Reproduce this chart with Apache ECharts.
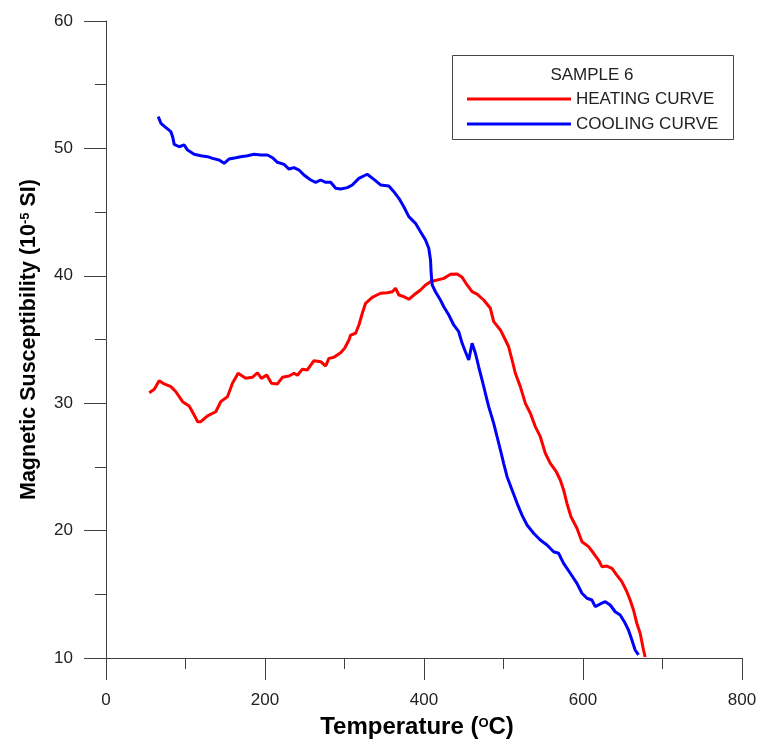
<!DOCTYPE html>
<html>
<head>
<meta charset="utf-8">
<title>Sample 6 – magnetic susceptibility vs temperature</title>
<script src="https://cdn.jsdelivr.net/npm/echarts@6/dist/echarts.min.js"></script>
<style>
  html, body { margin: 0; padding: 0; background: #ffffff; }
  #chart { width: 760px; height: 746px; }
</style>
</head>
<body>
<div id="chart"></div>
<script>
// Heating curve: temperature (°C) and susceptibility (10^-5 SI)
const heatT = [54.4, 60.7, 66.9, 73.2, 81.6, 87.9, 96.3, 104.6, 110.9, 115.2, 119.3, 127.7, 138.1, 144.4, 152.8,
  159.1, 166.2, 175.8, 184.2, 190.5, 195.5, 202.2, 208.1, 215.6, 221.9, 230.2, 236.5, 240.8, 247.0, 253.3,
  261.6, 270.0, 276.3, 280.4, 286.7, 295.1, 300.2, 305.6, 307.7, 314.0, 318.1, 322.4, 326.5, 334.9, 345.4,
  353.8, 360.1, 364.2, 368.4, 374.6, 380.9, 387.2, 395.6, 401.9, 408.2, 416.6, 424.9, 433.3, 441.7, 448.0,
  454.2, 460.5, 466.8, 475.1, 483.5, 487.7, 496.1, 502.4, 506.5, 510.8, 514.9, 521.2, 527.5, 533.8, 540.0,
  546.3, 552.6, 558.9, 566.4, 571.4, 575.6, 579.8, 584.9, 592.4, 598.7, 607.0, 613.3, 619.5, 623.8, 630.1,
  636.4, 642.6, 648.9, 655.2, 659.3, 663.5, 667.7, 671.9, 676.1, 678.2];
const heatV = [30.82, 31.09, 31.77, 31.51, 31.30, 30.90, 30.12, 29.78, 29.07, 28.55, 28.55, 29.00, 29.33, 30.12, 30.51,
  31.56, 32.35, 31.95, 32.03, 32.39, 31.95, 32.21, 31.56, 31.51, 32.03, 32.13, 32.35, 32.19, 32.66, 32.61,
  33.34, 33.26, 32.92, 33.52, 33.60, 33.96, 34.31, 34.96, 35.35, 35.49, 36.14, 37.06, 37.84, 38.31, 38.63,
  38.67, 38.75, 39.02, 38.49, 38.36, 38.16, 38.49, 38.89, 39.28, 39.54, 39.67, 39.80, 40.12, 40.14, 39.88,
  39.28, 38.75, 38.57, 38.10, 37.45, 36.40, 35.75, 34.96, 34.43, 33.39, 32.35, 31.30, 29.99, 29.21, 28.16,
  27.37, 26.07, 25.28, 24.62, 23.97, 23.19, 22.14, 21.09, 20.18, 19.13, 18.74, 18.22, 17.69, 17.17, 17.22,
  17.04, 16.51, 15.99, 15.20, 14.55, 13.77, 12.72, 11.94, 10.63, 10.08];

// Cooling curve
const coolT = [65.7, 69.1, 75.4, 81.6, 83.8, 85.8, 92.1, 98.3, 102.6, 110.9, 119.3, 127.7, 134.0, 142.3, 148.6,
  154.9, 163.3, 169.5, 171.7, 178.0, 186.2, 194.7, 203.1, 209.4, 215.6, 223.9, 230.2, 236.5, 242.8, 249.0,
  257.5, 263.7, 270.0, 276.3, 282.6, 288.9, 295.1, 303.5, 309.8, 318.1, 328.6, 337.0, 345.4, 355.8, 362.1,
  368.4, 374.6, 380.9, 389.3, 395.6, 401.9, 406.0, 408.2, 409.0, 410.3, 414.4, 420.7, 424.9, 431.2, 437.4,
  443.7, 448.0, 452.1, 456.3, 460.5, 464.7, 468.8, 473.1, 477.2, 481.4, 487.7, 491.9, 496.1, 500.2, 504.5,
  510.8, 517.1, 523.3, 529.6, 537.9, 546.3, 554.7, 563.0, 569.3, 575.6, 584.0, 592.4, 598.7, 605.0, 611.2,
  615.4, 621.7, 628.0, 634.2, 640.5, 646.8, 653.1, 657.2, 661.5, 665.6, 669.8];
const coolV = [52.49, 51.97, 51.63, 51.31, 50.92, 50.32, 50.13, 50.27, 49.87, 49.54, 49.43, 49.35, 49.22, 49.09, 48.83,
  49.17, 49.27, 49.35, 49.22, 49.43, 49.54, 49.48, 49.48, 49.27, 48.91, 48.75, 48.38, 48.49, 48.30, 47.91,
  47.52, 47.34, 47.52, 47.34, 47.34, 46.87, 46.81, 46.92, 47.13, 47.65, 47.97, 47.57, 47.13, 47.05, 46.60,
  46.08, 45.42, 44.64, 44.12, 43.46, 42.81, 42.16, 41.24, 40.20, 39.28, 38.75, 38.10, 37.57, 36.92, 36.14,
  35.61, 34.70, 34.04, 33.39, 34.70, 33.92, 32.86, 31.82, 30.78, 29.73, 28.42, 27.37, 26.33, 25.28, 24.23,
  23.19, 22.14, 21.22, 20.44, 19.79, 19.26, 18.87, 18.34, 18.22, 17.43, 16.65, 15.86, 15.08, 14.69, 14.55,
  14.03, 14.24, 14.42, 14.16, 13.63, 13.38, 12.72, 12.20, 11.41, 10.63, 10.24];

const xTicks = { min: 0, max: 800, interval: 200 };
const yTicks = { min: 10, max: 60, interval: 10 };

const FONT = '"Liberation Sans", Arial, sans-serif';
const AXIS_COLOR = '#404040';

function pairs(xs, ys) {
  return xs.map((x, i) => [x, ys[i]]);
}

const axisCommon = {
  axisLine: { show: true, lineStyle: { color: AXIS_COLOR, width: 1 } },
  axisTick: { show: true, inside: false, length: 22, lineStyle: { color: AXIS_COLOR, width: 1 } },
  minorTick: { show: true, splitNumber: 2, length: 11, lineStyle: { color: AXIS_COLOR, width: 1 } },
  splitLine: { show: false },
  axisLabel: { color: '#222', fontFamily: FONT, fontSize: 17 }
};

const chart = echarts.init(document.getElementById('chart'), null, { renderer: 'canvas' });

chart.setOption({
  animation: false,
  backgroundColor: '#ffffff',
  grid: { left: 106, right: 18, top: 21, bottom: 88, containLabel: false },
  xAxis: Object.assign({}, axisCommon, {
    type: 'value',
    min: xTicks.min, max: xTicks.max, interval: xTicks.interval,
    axisLabel: Object.assign({}, axisCommon.axisLabel, { margin: 34 }),
    name: '{t|Temperature (}{s|O}{e|C)}',
    nameLocation: 'middle',
    nameGap: 56,
    nameTextStyle: {
      rich: {
        t: { fontFamily: FONT, fontWeight: 'bold', fontSize: 24, color: '#000', lineHeight: 27 },
        s: { fontFamily: FONT, fontWeight: 'bold', fontSize: 13, color: '#000', lineHeight: 27, verticalAlign: 'top', padding: [3, 0, 0, 0] },
        e: { fontFamily: FONT, fontWeight: 'bold', fontSize: 24, color: '#000', lineHeight: 27, padding: [0, 14, 0, 0] }
      }
    }
  }),
  yAxis: Object.assign({}, axisCommon, {
    type: 'value',
    min: yTicks.min, max: yTicks.max, interval: yTicks.interval,
    axisLabel: Object.assign({}, axisCommon.axisLabel, { margin: 33 }),
    name: '{t|Magnetic Susceptibility (10}{s|-5}{t| SI)}',
    nameLocation: 'middle',
    nameRotate: 90,
    nameGap: 64,
    nameTextStyle: {
      rich: {
        t: { fontFamily: FONT, fontWeight: 'bold', fontSize: 21.5, color: '#000', lineHeight: 25 },
        s: { fontFamily: FONT, fontWeight: 'bold', fontSize: 13, color: '#000', lineHeight: 25, verticalAlign: 'top', padding: [2, 0, 0, 0] }
      }
    }
  }),
  legend: {
    orient: 'vertical',
    left: 462,
    top: 85.5,
    itemWidth: 104,
    itemHeight: 3,
    itemGap: 8,
    icon: 'rect',
    selectedMode: false,
    textStyle: { fontFamily: FONT, fontSize: 17, color: '#222', lineHeight: 17 },
    data: ['HEATING CURVE', 'COOLING CURVE']
  },
  graphic: [
    {
      type: 'rect',
      shape: { x: 452.5, y: 55.5, width: 281, height: 84 },
      style: { fill: 'none', stroke: '#444', lineWidth: 1 },
      silent: true
    },
    {
      type: 'text',
      x: 592, y: 75,
      style: { text: 'SAMPLE 6', font: '17px ' + FONT, fill: '#222', align: 'center', verticalAlign: 'middle' },
      silent: true
    }
  ],
  series: [
    {
      name: 'HEATING CURVE',
      type: 'line',
      data: pairs(heatT, heatV),
      showSymbol: false,
      symbol: 'none',
      color: '#ff0000',
      lineStyle: { color: '#ff0000', width: 3 },
      z: 2
    },
    {
      name: 'COOLING CURVE',
      type: 'line',
      data: pairs(coolT, coolV),
      showSymbol: false,
      symbol: 'none',
      color: '#0000ff',
      lineStyle: { color: '#0000ff', width: 3 },
      z: 3
    }
  ]
});
</script>
</body>
</html>
